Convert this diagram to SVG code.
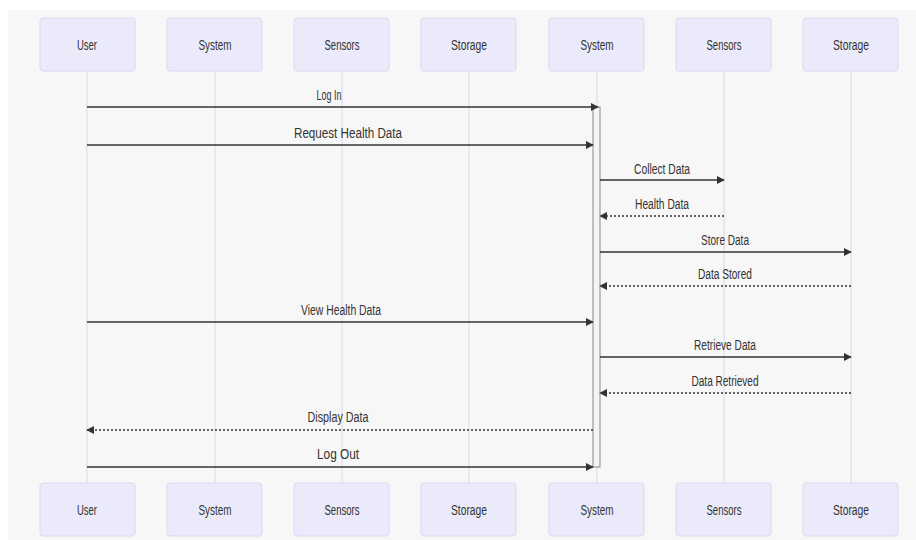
<svg xmlns="http://www.w3.org/2000/svg" width="916" height="540" viewBox="0 0 916 540">
  <style>
    .actor rect { fill: #eaeafa; stroke: #dcd8f2; stroke-width: 1; }
    .actor text { font-family: "Liberation Sans", Arial, sans-serif; font-size: 14px; fill: #333; text-anchor: middle; }
    .life { stroke: #d9d6ef; stroke-width: 1; }
    .msg { stroke: #333; stroke-width: 1.6; fill: none; }
    .dot { stroke-dasharray: 2 2; }
    .lbl { font-family: "Liberation Sans", Arial, sans-serif; font-size: 14px; fill: #333; text-anchor: middle; }
    .act { fill: #f4f4f4; stroke: #8a8a8a; stroke-width: 1; }
  </style>
  <defs>
    <marker id="head" viewBox="0 0 10 10" refX="9" refY="5" markerWidth="8" markerHeight="8" markerUnits="userSpaceOnUse" orient="auto">
      <path d="M0,0 L10,5 L0,10 z" fill="#333"/>
    </marker>
  </defs>

  <rect x="0" y="0" width="916" height="540" fill="#ffffff"/>
  <rect x="8" y="10" width="908" height="530" fill="#f7f7f7"/>

  <!-- lifelines -->
  <g id="lifelines">
    <line class="life" x1="87" y1="71" x2="87" y2="483"/>
    <line class="life" x1="215" y1="71" x2="215" y2="483"/>
    <line class="life" x1="342" y1="71" x2="342" y2="483"/>
    <line class="life" x1="469" y1="71" x2="469" y2="483"/>
    <line class="life" x1="597" y1="71" x2="597" y2="483"/>
    <line class="life" x1="724" y1="71" x2="724" y2="483"/>
    <line class="life" x1="851" y1="71" x2="851" y2="483"/>
  </g>

  <!-- activation bar on the second System -->
  <rect id="activation" class="act" x="593" y="107" width="7" height="360"/>

  <!-- participants (top) -->
  <g id="user-top" class="actor"><rect x="40" y="18" width="95" height="53" rx="3"/><text x="87" y="50" textLength="20" lengthAdjust="spacingAndGlyphs">User</text></g>
  <g id="system1-top" class="actor"><rect x="167" y="18" width="95" height="53" rx="3"/><text x="215" y="50" textLength="33" lengthAdjust="spacingAndGlyphs">System</text></g>
  <g id="sensors1-top" class="actor"><rect x="294" y="18" width="95" height="53" rx="3"/><text x="342" y="50" textLength="35" lengthAdjust="spacingAndGlyphs">Sensors</text></g>
  <g id="storage1-top" class="actor"><rect x="421" y="18" width="95" height="53" rx="3"/><text x="469" y="50" textLength="36" lengthAdjust="spacingAndGlyphs">Storage</text></g>
  <g id="system2-top" class="actor"><rect x="549" y="18" width="95" height="53" rx="3"/><text x="597" y="50" textLength="33" lengthAdjust="spacingAndGlyphs">System</text></g>
  <g id="sensors2-top" class="actor"><rect x="676" y="18" width="95" height="53" rx="3"/><text x="724" y="50" textLength="35" lengthAdjust="spacingAndGlyphs">Sensors</text></g>
  <g id="storage2-top" class="actor"><rect x="803" y="18" width="95" height="53" rx="3"/><text x="851" y="50" textLength="36" lengthAdjust="spacingAndGlyphs">Storage</text></g>

  <!-- participants (bottom) -->
  <g id="user-bottom" class="actor"><rect x="40" y="483" width="95" height="53" rx="3"/><text x="87" y="515" textLength="20" lengthAdjust="spacingAndGlyphs">User</text></g>
  <g id="system1-bottom" class="actor"><rect x="167" y="483" width="95" height="53" rx="3"/><text x="215" y="515" textLength="33" lengthAdjust="spacingAndGlyphs">System</text></g>
  <g id="sensors1-bottom" class="actor"><rect x="294" y="483" width="95" height="53" rx="3"/><text x="342" y="515" textLength="35" lengthAdjust="spacingAndGlyphs">Sensors</text></g>
  <g id="storage1-bottom" class="actor"><rect x="421" y="483" width="95" height="53" rx="3"/><text x="469" y="515" textLength="36" lengthAdjust="spacingAndGlyphs">Storage</text></g>
  <g id="system2-bottom" class="actor"><rect x="549" y="483" width="95" height="53" rx="3"/><text x="597" y="515" textLength="33" lengthAdjust="spacingAndGlyphs">System</text></g>
  <g id="sensors2-bottom" class="actor"><rect x="676" y="483" width="95" height="53" rx="3"/><text x="724" y="515" textLength="35" lengthAdjust="spacingAndGlyphs">Sensors</text></g>
  <g id="storage2-bottom" class="actor"><rect x="803" y="483" width="95" height="53" rx="3"/><text x="851" y="515" textLength="36" lengthAdjust="spacingAndGlyphs">Storage</text></g>

  <!-- messages -->
  <g id="messages">
    <line class="msg" x1="87" y1="107" x2="598" y2="107" marker-end="url(#head)"/>
    <text class="lbl" x="329" y="100" textLength="25" lengthAdjust="spacingAndGlyphs">Log In</text>

    <line class="msg" x1="87" y1="145" x2="593" y2="145" marker-end="url(#head)"/>
    <text class="lbl" x="348" y="138" textLength="108" lengthAdjust="spacingAndGlyphs">Request Health Data</text>

    <line class="msg" x1="600" y1="180" x2="724" y2="180" marker-end="url(#head)"/>
    <text class="lbl" x="662" y="174" textLength="56" lengthAdjust="spacingAndGlyphs">Collect Data</text>

    <line class="msg dot" x1="724" y1="216" x2="600" y2="216" marker-end="url(#head)"/>
    <text class="lbl" x="662" y="209" textLength="54" lengthAdjust="spacingAndGlyphs">Health Data</text>

    <line class="msg" x1="600" y1="252" x2="851" y2="252" marker-end="url(#head)"/>
    <text class="lbl" x="725" y="245" textLength="48" lengthAdjust="spacingAndGlyphs">Store Data</text>

    <line class="msg dot" x1="851" y1="286" x2="600" y2="286" marker-end="url(#head)"/>
    <text class="lbl" x="725" y="279" textLength="54" lengthAdjust="spacingAndGlyphs">Data Stored</text>

    <line class="msg" x1="87" y1="322" x2="593" y2="322" marker-end="url(#head)"/>
    <text class="lbl" x="341" y="315" textLength="80" lengthAdjust="spacingAndGlyphs">View Health Data</text>

    <line class="msg" x1="600" y1="357" x2="851" y2="357" marker-end="url(#head)"/>
    <text class="lbl" x="725" y="350" textLength="62" lengthAdjust="spacingAndGlyphs">Retrieve Data</text>

    <line class="msg dot" x1="851" y1="393" x2="600" y2="393" marker-end="url(#head)"/>
    <text class="lbl" x="725" y="386" textLength="67" lengthAdjust="spacingAndGlyphs">Data Retrieved</text>

    <line class="msg dot" x1="593" y1="430" x2="87" y2="430" marker-end="url(#head)"/>
    <text class="lbl" x="338" y="422" textLength="61" lengthAdjust="spacingAndGlyphs">Display Data</text>

    <line class="msg" x1="87" y1="467" x2="593" y2="467" marker-end="url(#head)"/>
    <text class="lbl" x="338" y="459" textLength="42" lengthAdjust="spacingAndGlyphs">Log Out</text>
  </g>
</svg>
